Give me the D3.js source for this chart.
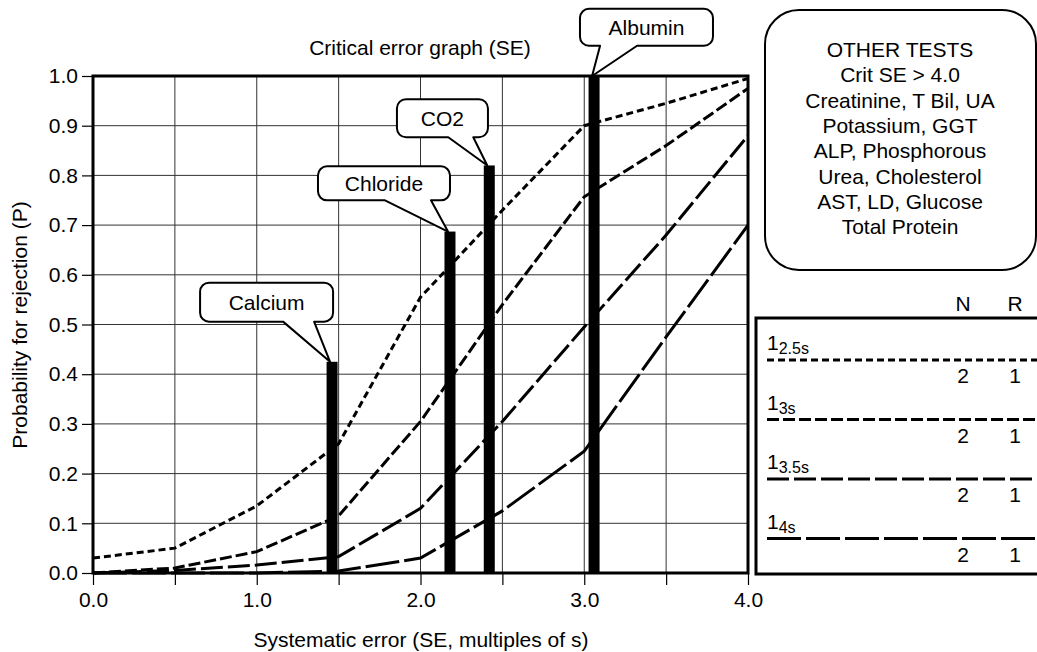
<!DOCTYPE html>
<html>
<head>
<meta charset="utf-8">
<script src="https://cdn.jsdelivr.net/npm/d3@7"></script>
<style>
  body { margin: 0; background: #fff; }
  text { font-family: "Liberation Sans", Arial, sans-serif; fill: #000; }
</style>
</head>
<body>
<svg id="chart" width="1037" height="652"></svg>
<script>
// Systematic error steps (multiples of s)
const seValues = [0, 0.5, 1.0, 1.5, 2.0, 2.5, 3.0, 3.5, 4.0];

// Probability of rejection for each rule
const p25s = [0.03, 0.05, 0.135, 0.26, 0.555, 0.73, 0.90, 0.945, 0.995];
const p3s  = [0.0, 0.01, 0.043, 0.115, 0.305, 0.54, 0.757, 0.86, 0.975];
const p35s = [0.0, 0.005, 0.016, 0.033, 0.13, 0.305, 0.495, 0.68, 0.88];
const p4s  = [0.0, 0.0, 0.0, 0.004, 0.03, 0.125, 0.245, 0.475, 0.70];

const ruleNames = ["2.5s", "3s", "3.5s", "4s"];
const ruleN = [2, 2, 2, 2];
const ruleR = [1, 1, 1, 1];

// Critical systematic errors per test
const tests = ["Calcium", "Chloride", "CO2", "Albumin"];
const critSE = [1.46, 2.18, 2.42, 3.06];
const critP = [0.425, 0.687, 0.82, 1.0];

const otherTests = ["OTHER TESTS", "Crit SE > 4.0", "Creatinine, T Bil, UA", "Potassium, GGT",
  "ALP, Phosphorous", "Urea, Cholesterol", "AST, LD, Glucose", "Total Protein"];

const xTicks = [0, 0.5, 1.0, 1.5, 2.0, 2.5, 3.0, 3.5, 4.0];
const yTicks = [0, 0.1, 0.2, 0.3, 0.4, 0.5, 0.6, 0.7, 0.8, 0.9, 1.0];

const svg = d3.select("#chart");
const fs = 21;

const x = d3.scaleLinear().domain([0, 4]).range([93, 748]);
const y = d3.scaleLinear().domain([0, 1]).range([573, 76]);

// grid
svg.append("g").selectAll("line")
  .data(xTicks.filter(d => d > 0 && d < 4))
  .join("line")
  .attr("x1", d => x(d)).attr("x2", d => x(d))
  .attr("y1", y(0)).attr("y2", y(1))
  .attr("stroke", "#333").attr("stroke-width", 1);

svg.append("g").selectAll("line")
  .data(yTicks.filter(d => d > 0 && d < 1))
  .join("line")
  .attr("x1", x(0)).attr("x2", x(4))
  .attr("y1", d => y(d)).attr("y2", d => y(d))
  .attr("stroke", "#333").attr("stroke-width", 1);

// axes
const yAxis = svg.append("g")
  .attr("transform", `translate(${x(0)},0)`)
  .call(d3.axisLeft(y).tickValues(yTicks).tickSize(11).tickPadding(4).tickFormat(d3.format(".1f")));
const xAxis = svg.append("g")
  .attr("transform", `translate(0,${y(0)})`)
  .call(d3.axisBottom(x).tickValues(xTicks).tickSize(12).tickPadding(7)
    .tickFormat(d => Number.isInteger(d) ? d3.format(".1f")(d) : ""));
[yAxis, xAxis].forEach(a => {
  a.select(".domain").remove();
  a.selectAll("line").attr("stroke", "#000").attr("stroke-width", 1.2);
  a.selectAll("text").attr("font-size", fs).attr("font-family", null);
});

// curves
const series = [p25s, p3s, p35s, p4s];
const dashes = ["7,4", "12,4", "22,5", "34,5"];
const line = d3.line().x((d, i) => x(seValues[i])).y(d => y(d));

svg.append("g").selectAll("path")
  .data(series)
  .join("path")
  .attr("d", d => line(d))
  .attr("fill", "none")
  .attr("stroke", "#000")
  .attr("stroke-width", 3)
  .attr("stroke-dasharray", (d, i) => dashes[i]);

// critical error bars
svg.append("g").selectAll("rect")
  .data(tests)
  .join("rect")
  .attr("x", (d, i) => x(critSE[i]) - 5.5)
  .attr("width", 11)
  .attr("y", (d, i) => y(critP[i]))
  .attr("height", (d, i) => y(0) - y(critP[i]))
  .attr("fill", "#000");

// plot frame
svg.append("rect")
  .attr("x", x(0)).attr("y", y(1))
  .attr("width", x(4) - x(0)).attr("height", y(0) - y(1))
  .attr("fill", "none").attr("stroke", "#000").attr("stroke-width", 3);

// callouts (box centre in data space, tail base offsets from tip in px)
const calloutBox = [
  { cx: 1.06, cy: 0.545, w: 133, h: 39, tail: [-47, -16] },
  { cx: 1.777, cy: 0.784, w: 132, h: 34, tail: [-63, -17] },
  { cx: 2.134, cy: 0.915, w: 91, h: 38, tail: [-39, -14] },
  { cx: 3.38, cy: 1.098, w: 133, h: 37, tail: [8, 45] }
];

function bubble(x0, y0, w, h, r, bx1, bx2, tx, ty) {
  const x1 = x0 + w, y1 = y0 + h;
  return `M${bx2},${y1} L${tx},${ty} L${bx1},${y1} L${x0 + r},${y1} ` +
    `A${r},${r} 0 0 1 ${x0},${y1 - r} L${x0},${y0 + r} A${r},${r} 0 0 1 ${x0 + r},${y0} ` +
    `L${x1 - r},${y0} A${r},${r} 0 0 1 ${x1},${y0 + r} L${x1},${y1 - r} ` +
    `A${r},${r} 0 0 1 ${x1 - r},${y1} Z`;
}

const callouts = svg.append("g");
tests.forEach((name, i) => {
  const b = calloutBox[i];
  const cx = x(b.cx), cy = y(b.cy);
  const x0 = cx - b.w / 2, y0 = cy - b.h / 2;
  const tx = x(critSE[i]) - 2, ty = y(critP[i]);
  callouts.append("path")
    .attr("d", bubble(x0, y0, b.w, b.h, 9, tx + b.tail[0], tx + b.tail[1], tx, ty))
    .attr("fill", "#fff").attr("stroke", "#000").attr("stroke-width", 2)
    .attr("stroke-linejoin", "round");
  callouts.append("text")
    .attr("x", cx).attr("y", cy + 7.5)
    .attr("text-anchor", "middle").attr("font-size", fs)
    .text(name);
});

// titles
svg.append("text")
  .attr("x", 420).attr("y", 55)
  .attr("text-anchor", "middle").attr("font-size", fs)
  .text("Critical error graph (SE)");
svg.append("text")
  .attr("x", 421).attr("y", 647)
  .attr("text-anchor", "middle").attr("font-size", fs)
  .text("Systematic error (SE, multiples of s)");
svg.append("text")
  .attr("transform", "translate(27,325) rotate(-90)")
  .attr("text-anchor", "middle").attr("font-size", fs)
  .text("Probability for rejection (P)");

// other tests box
svg.append("rect")
  .attr("x", 765).attr("y", 10).attr("width", 271).attr("height", 260)
  .attr("rx", 34).attr("fill", "#fff").attr("stroke", "#000").attr("stroke-width", 2);
svg.append("g").selectAll("text")
  .data(otherTests)
  .join("text")
  .attr("x", 900).attr("y", (d, i) => 57 + i * 25.3)
  .attr("text-anchor", "middle").attr("font-size", fs)
  .text(d => d);

// legend
svg.append("rect")
  .attr("x", 756).attr("y", 318).attr("width", 300).attr("height", 256)
  .attr("fill", "#fff").attr("stroke", "#000").attr("stroke-width", 3);
svg.append("text").attr("x", 963).attr("y", 311).attr("text-anchor", "middle")
  .attr("font-size", fs).text("N");
svg.append("text").attr("x", 1015).attr("y", 311).attr("text-anchor", "middle")
  .attr("font-size", fs).text("R");

const legend = svg.append("g");
ruleNames.forEach((r, i) => {
  const top = 350 + i * 59.5;
  const lab = legend.append("text").attr("x", 767).attr("y", top).attr("font-size", fs);
  lab.append("tspan").text("1");
  lab.append("tspan").attr("font-size", 16).attr("dy", 4).text(r);
  legend.append("line")
    .attr("x1", 767).attr("x2", 1037)
    .attr("y1", top + 10).attr("y2", top + 10)
    .attr("stroke", "#000").attr("stroke-width", 3)
    .attr("stroke-dasharray", dashes[i]);
  legend.append("text").attr("x", 963).attr("y", top + 33).attr("text-anchor", "middle")
    .attr("font-size", fs).text(ruleN[i]);
  legend.append("text").attr("x", 1015).attr("y", top + 33).attr("text-anchor", "middle")
    .attr("font-size", fs).text(ruleR[i]);
});
</script>
</body>
</html>
